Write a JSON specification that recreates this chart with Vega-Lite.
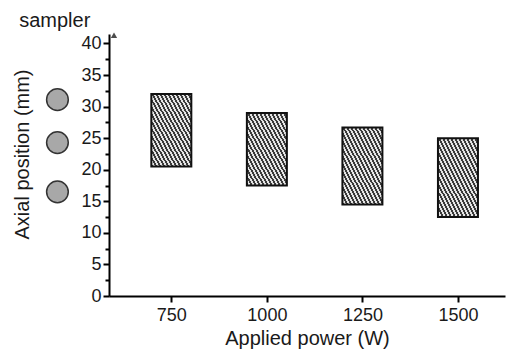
{
  "$schema": "https://vega.github.io/schema/vega-lite/v6.json",
  "width": 396,
  "height": 262,
  "autosize": "none",
  "padding": {"left": 109, "top": 34, "right": 4, "bottom": 58},
  "background": "white",
  "config": {
    "view": {"stroke": null},
    "font": "Liberation Sans",
    "axis": {"grid": false, "domainColor": "black", "tickColor": "black", "labelColor": "#1a1a1a", "titleColor": "#1a1a1a", "titleFontWeight": "normal", "domainWidth": 2, "tickWidth": 2}
  },
  "datasets": {
    "bars": [
      {"power": 750, "low": 20.5, "high": 32},
      {"power": 1000, "low": 17.5, "high": 29},
      {"power": 1250, "low": 14.5, "high": 26.7},
      {"power": 1500, "low": 12.5, "high": 25}
    ],
    "sampler": [
      {"power": 452, "axial": 31.1},
      {"power": 452, "axial": 24.3},
      {"power": 452, "axial": 16.5}
    ],
    "label": [{"power": 445, "axial": 43.6, "text": "sampler"}],
    "minor": [
      {"axial": 2.5}, {"axial": 7.5}, {"axial": 12.5}, {"axial": 17.5},
      {"axial": 22.5}, {"axial": 27.5}, {"axial": 32.5}, {"axial": 37.5}
    ],
    "arrow": [{"power": 600, "axial": 41.3}]
  },
  "resolve": {"axis": {"y": "independent", "x": "independent"}},
  "layer": [
    {
      "data": {"name": "bars"},
      "mark": {
        "type": "bar", "width": 40, "orient": "vertical",
        "stroke": "#111", "strokeWidth": 2,
        "fill": {
          "gradient": "linear", "x1": 0, "y1": 1, "x2": 1, "y2": 0,
          "stops": [
            {"offset": 0.0, "color": "#3a3a3a"}, {"offset": 0.025, "color": "#3a3a3a"}, {"offset": 0.025, "color": "#e4e4e4"}, {"offset": 0.05, "color": "#e4e4e4"},
            {"offset": 0.05, "color": "#3a3a3a"}, {"offset": 0.075, "color": "#3a3a3a"}, {"offset": 0.075, "color": "#e4e4e4"}, {"offset": 0.1, "color": "#e4e4e4"},
            {"offset": 0.1, "color": "#3a3a3a"}, {"offset": 0.125, "color": "#3a3a3a"}, {"offset": 0.125, "color": "#e4e4e4"}, {"offset": 0.15, "color": "#e4e4e4"},
            {"offset": 0.15, "color": "#3a3a3a"}, {"offset": 0.175, "color": "#3a3a3a"}, {"offset": 0.175, "color": "#e4e4e4"}, {"offset": 0.2, "color": "#e4e4e4"},
            {"offset": 0.2, "color": "#3a3a3a"}, {"offset": 0.225, "color": "#3a3a3a"}, {"offset": 0.225, "color": "#e4e4e4"}, {"offset": 0.25, "color": "#e4e4e4"},
            {"offset": 0.25, "color": "#3a3a3a"}, {"offset": 0.275, "color": "#3a3a3a"}, {"offset": 0.275, "color": "#e4e4e4"}, {"offset": 0.3, "color": "#e4e4e4"},
            {"offset": 0.3, "color": "#3a3a3a"}, {"offset": 0.325, "color": "#3a3a3a"}, {"offset": 0.325, "color": "#e4e4e4"}, {"offset": 0.35, "color": "#e4e4e4"},
            {"offset": 0.35, "color": "#3a3a3a"}, {"offset": 0.375, "color": "#3a3a3a"}, {"offset": 0.375, "color": "#e4e4e4"}, {"offset": 0.4, "color": "#e4e4e4"},
            {"offset": 0.4, "color": "#3a3a3a"}, {"offset": 0.425, "color": "#3a3a3a"}, {"offset": 0.425, "color": "#e4e4e4"}, {"offset": 0.45, "color": "#e4e4e4"},
            {"offset": 0.45, "color": "#3a3a3a"}, {"offset": 0.475, "color": "#3a3a3a"}, {"offset": 0.475, "color": "#e4e4e4"}, {"offset": 0.5, "color": "#e4e4e4"},
            {"offset": 0.5, "color": "#3a3a3a"}, {"offset": 0.525, "color": "#3a3a3a"}, {"offset": 0.525, "color": "#e4e4e4"}, {"offset": 0.55, "color": "#e4e4e4"},
            {"offset": 0.55, "color": "#3a3a3a"}, {"offset": 0.575, "color": "#3a3a3a"}, {"offset": 0.575, "color": "#e4e4e4"}, {"offset": 0.6, "color": "#e4e4e4"},
            {"offset": 0.6, "color": "#3a3a3a"}, {"offset": 0.625, "color": "#3a3a3a"}, {"offset": 0.625, "color": "#e4e4e4"}, {"offset": 0.65, "color": "#e4e4e4"},
            {"offset": 0.65, "color": "#3a3a3a"}, {"offset": 0.675, "color": "#3a3a3a"}, {"offset": 0.675, "color": "#e4e4e4"}, {"offset": 0.7, "color": "#e4e4e4"},
            {"offset": 0.7, "color": "#3a3a3a"}, {"offset": 0.725, "color": "#3a3a3a"}, {"offset": 0.725, "color": "#e4e4e4"}, {"offset": 0.75, "color": "#e4e4e4"},
            {"offset": 0.75, "color": "#3a3a3a"}, {"offset": 0.775, "color": "#3a3a3a"}, {"offset": 0.775, "color": "#e4e4e4"}, {"offset": 0.8, "color": "#e4e4e4"},
            {"offset": 0.8, "color": "#3a3a3a"}, {"offset": 0.825, "color": "#3a3a3a"}, {"offset": 0.825, "color": "#e4e4e4"}, {"offset": 0.85, "color": "#e4e4e4"},
            {"offset": 0.85, "color": "#3a3a3a"}, {"offset": 0.875, "color": "#3a3a3a"}, {"offset": 0.875, "color": "#e4e4e4"}, {"offset": 0.9, "color": "#e4e4e4"},
            {"offset": 0.9, "color": "#3a3a3a"}, {"offset": 0.925, "color": "#3a3a3a"}, {"offset": 0.925, "color": "#e4e4e4"}, {"offset": 0.95, "color": "#e4e4e4"},
            {"offset": 0.95, "color": "#3a3a3a"}, {"offset": 0.975, "color": "#3a3a3a"}, {"offset": 0.975, "color": "#e4e4e4"}, {"offset": 1.0, "color": "#e4e4e4"}
          ]
        }
      },
      "encoding": {
        "x": {
          "field": "power", "type": "quantitative",
          "scale": {"domain": [600, 1610], "nice": false, "zero": false},
          "axis": {"values": [750, 1000, 1250, 1500], "format": "d", "title": "Applied power (W)", "labelFontSize": 18, "titleFontSize": 20, "tickSize": 6, "labelPadding": 4, "titlePadding": 4}
        },
        "y": {
          "field": "high", "type": "quantitative",
          "scale": {"domain": [0, 41.5], "nice": false},
          "axis": {"values": [0, 5, 10, 15, 20, 25, 30, 35, 40], "title": "Axial position (mm)", "labelFontSize": 18, "titleFontSize": 20, "tickSize": 6, "labelPadding": 2, "titleX": -87, "titleY": 120, "titleAlign": "center", "titleBaseline": "middle", "titleAngle": -90}
        },
        "y2": {"field": "low"}
      }
    },
    {
      "data": {"name": "minor"},
      "mark": {"type": "tick", "opacity": 0},
      "encoding": {
        "y": {
          "field": "axial", "type": "quantitative",
          "axis": {"orient": "left", "values": [2.5, 7.5, 12.5, 17.5, 22.5, 27.5, 32.5, 37.5], "labels": false, "title": null, "tickSize": 4, "domain": false}
        }
      }
    },
    {
      "data": {"name": "sampler"},
      "mark": {"type": "circle", "size": 470, "fill": "#a8a8a8", "stroke": "#333", "strokeWidth": 1.5, "opacity": 1, "clip": false},
      "encoding": {
        "x": {"field": "power", "type": "quantitative", "axis": null},
        "y": {"field": "axial", "type": "quantitative", "axis": null}
      }
    },
    {
      "data": {"name": "label"},
      "mark": {"type": "text", "fontSize": 20, "color": "#1a1a1a", "clip": false, "baseline": "middle", "align": "center"},
      "encoding": {
        "x": {"field": "power", "type": "quantitative", "axis": null},
        "y": {"field": "axial", "type": "quantitative", "axis": null},
        "text": {"field": "text"}
      }
    },
    {
      "data": {"name": "arrow"},
      "mark": {"type": "point", "shape": "triangle-up", "size": 40, "filled": true, "color": "black", "clip": false},
      "encoding": {
        "x": {"field": "power", "type": "quantitative", "axis": null},
        "y": {"field": "axial", "type": "quantitative", "axis": null}
      }
    }
  ]
}
